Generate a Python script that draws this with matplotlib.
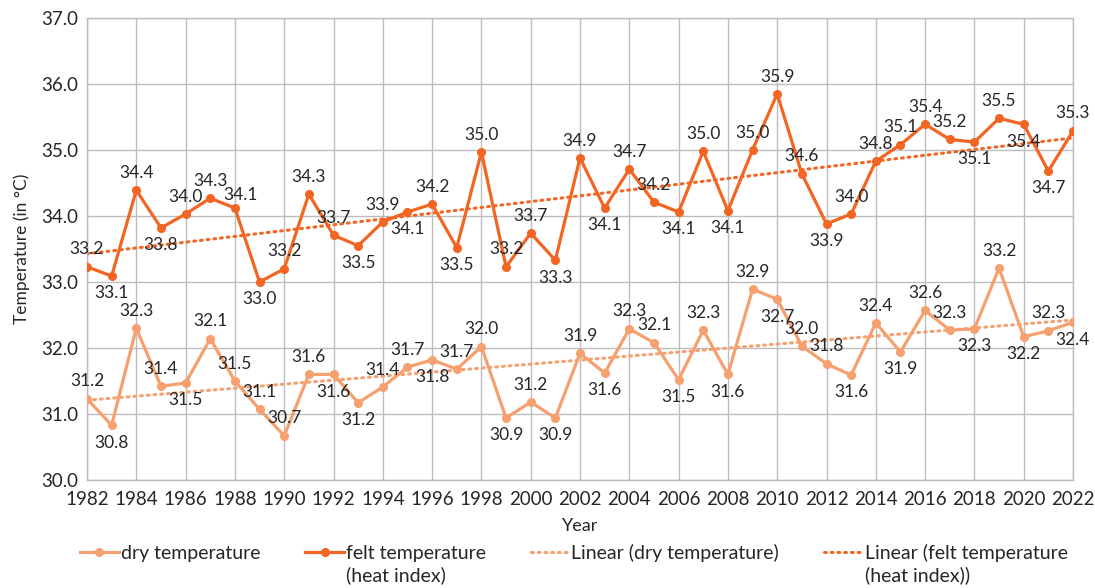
import numpy as np
import matplotlib
matplotlib.use("Agg")
import matplotlib.pyplot as plt

plt.rcParams['font.family'] = ['Lato', 'DejaVu Sans']

years = list(range(1982, 2023))

dry_temp = [31.23, 30.83, 32.30, 31.42, 31.47, 32.14, 31.50, 31.07, 30.67, 31.60,
            31.60, 31.17, 31.41, 31.71, 31.82, 31.68, 32.02, 30.94, 31.18, 30.94,
            31.92, 31.62, 32.29, 32.08, 31.52, 32.27, 31.60, 32.89, 32.74, 32.03,
            31.76, 31.59, 32.38, 31.94, 32.57, 32.27, 32.29, 33.21, 32.17, 32.26,
            32.39]

felt_temp = [33.23, 33.09, 34.39, 33.82, 34.03, 34.27, 34.12, 33.00, 33.20, 34.33,
             33.71, 33.55, 33.91, 34.06, 34.18, 33.52, 34.97, 33.23, 33.74, 33.33,
             34.88, 34.12, 34.71, 34.21, 34.06, 34.98, 34.08, 35.00, 35.85, 34.64,
             33.88, 34.03, 34.83, 35.08, 35.39, 35.16, 35.12, 35.48, 35.39, 34.68,
             35.29]

# label placement per year: a = above, b = below, r = above-right
dry_pos = list("abaabaaaaa" "bbaabaabab" "abaabababa" "ababaababa" "b")
felt_pos = list("ababaarbaa" "abababaaab" "abaababaaa" "baaaaababb" "a")

legend_line1 = ["dry temperature", "felt temperature",
                "Linear (dry temperature)", "Linear (felt temperature"]
legend_line2 = ["", "(heat index)", "", "(heat index))"]

c_dry = "#F5A06E"
c_felt = "#F26522"
txt_c = "#262626"
grid_c = "#BDBDBD"

fig = plt.figure(figsize=(10.95, 5.88), dpi=100)
ax = fig.add_axes([87/1095, 1 - 480/588, (1073-87)/1095, (480-18)/588])

x = np.array(years, dtype=float)
h1, = ax.plot(x, dry_temp, color=c_dry, lw=2.3, marker='o', ms=5.5, zorder=3)
h2, = ax.plot(x, felt_temp, color=c_felt, lw=2.3, marker='o', ms=5.5, zorder=3)

pd_ = np.polyfit(x, dry_temp, 1)
pf_ = np.polyfit(x, felt_temp, 1)
h3, = ax.plot(x, np.polyval(pd_, x), color=c_dry, lw=2.2, ls=(0, (0.6, 1.6)),
              dash_capstyle='round', zorder=2)
h4, = ax.plot(x, np.polyval(pf_, x), color=c_felt, lw=2.2, ls=(0, (0.6, 1.6)),
              dash_capstyle='round', zorder=2)

offsets = {'a': (0, 12.5), 'b': (0, -12.5), 'r': (4, 9.5)}
for vals, poss in ((dry_temp, dry_pos), (felt_temp, felt_pos)):
    for xi, v, p in zip(years, vals, poss):
        ax.annotate(f"{v:.1f}", (xi, v), xytext=offsets[p], textcoords='offset points',
                    ha='center', va='center', fontsize=12.5, color=txt_c,
                    annotation_clip=False, zorder=4)

ax.set_xlim(1982, 2022)
ax.set_ylim(30, 37)
ax.set_xticks(range(1982, 2023, 2))
ax.set_yticks(np.arange(30, 37.01, 1.0))
ax.set_yticklabels([f"{t:.1f}" for t in np.arange(30, 37.01, 1.0)])
ax.grid(True, color=grid_c, lw=1.0, zorder=0)
ax.set_axisbelow(True)
for s in ax.spines.values():
    s.set_color(grid_c)
    s.set_linewidth(1.0)
ax.tick_params(length=0, labelsize=13.5, colors=txt_c, pad=6)
ax.tick_params(axis='x', pad=8)
ax.set_xlabel("Year", fontsize=13, color=txt_c, labelpad=7)
ax.set_ylabel("Temperature (in °C)", fontsize=12.5, color=txt_c, labelpad=8)

leg = fig.legend([h1, h2, h3, h4], legend_line1, loc='center left',
                 bbox_to_anchor=(80/1095, 1 - 553/588), ncol=4, frameon=False,
                 fontsize=14, handlelength=2.0, handletextpad=0.1,
                 columnspacing=2.3, labelcolor=txt_c, borderpad=0, borderaxespad=0)

fig.canvas.draw()
r = fig.canvas.get_renderer()
for t, extra in zip(leg.get_texts(), legend_line2):
    if extra:
        bb = t.get_window_extent(r)
        fig.text(bb.x0 / fig.bbox.width, (bb.y0 - 4) / fig.bbox.height, extra,
                 ha='left', va='top', fontsize=14, color=txt_c)

fig.savefig("out.png", dpi=100)
